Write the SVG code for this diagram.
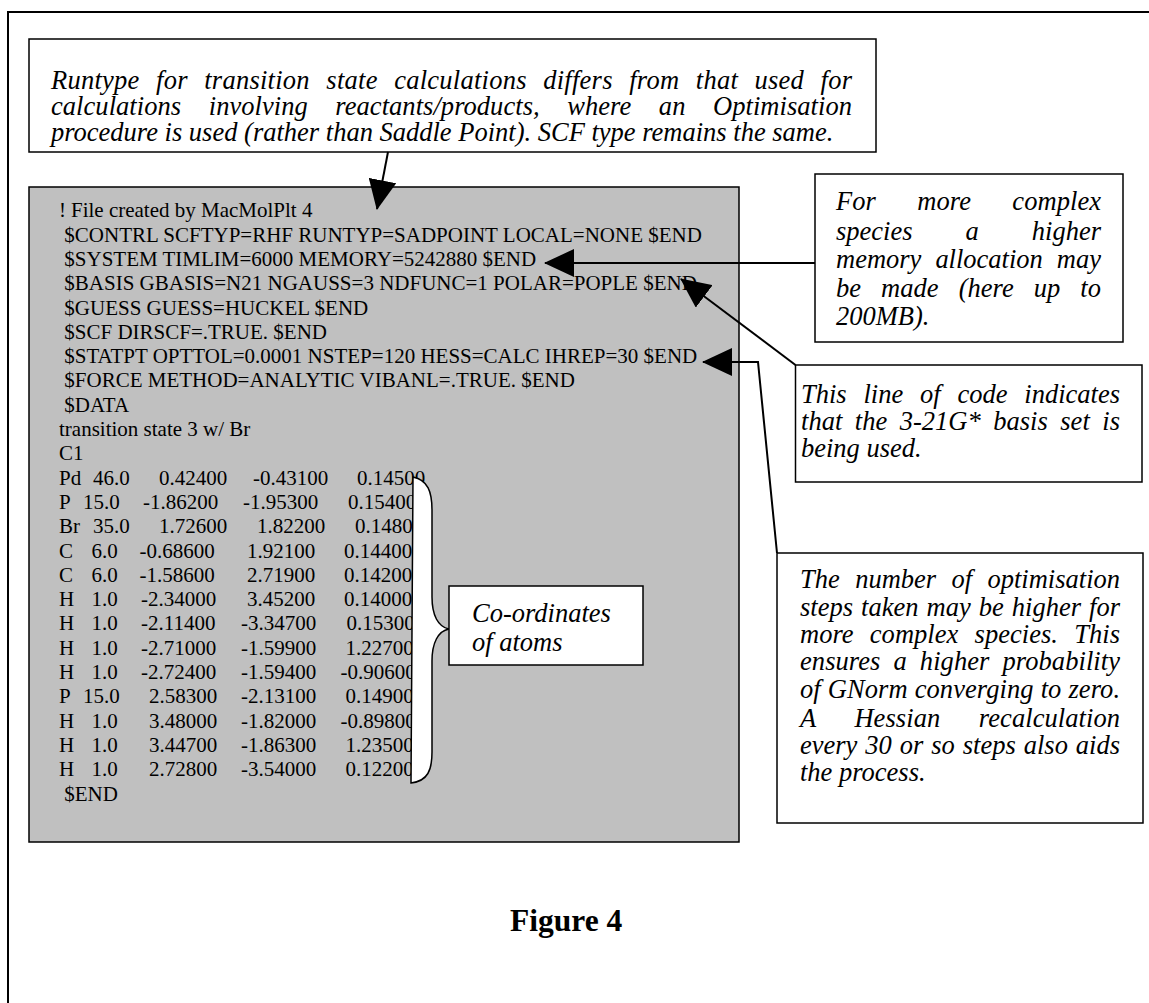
<svg xmlns="http://www.w3.org/2000/svg" width="1149" height="1003" viewBox="0 0 1149 1003">
<style>
.frame{fill:none;stroke:#000;stroke-width:2}
.box{fill:#fff;stroke:#000;stroke-width:1.5}
.gray{fill:#c0c0c0;stroke:#000;stroke-width:1.5}
.code{font-family:"Liberation Serif","Times New Roman",serif;font-size:21px;fill:#000}
.note{font-family:"Liberation Serif","Times New Roman",serif;font-style:italic;font-size:26.5px;fill:#000}
.fig{font-family:"Liberation Serif","Times New Roman",serif;font-weight:bold;font-size:31.5px;fill:#000}
.conn{fill:none;stroke:#000;stroke-width:2}
.brace{fill:#fff;stroke:#000;stroke-width:1.5}
</style>
<defs>
<marker id="ah" markerUnits="userSpaceOnUse" markerWidth="30" markerHeight="28" viewBox="0 0 30 28" refX="29" refY="14" orient="auto">
<path d="M0,0 L30,14 L0,28 z" fill="#000"/>
</marker>
</defs>
<rect width="1149" height="1003" fill="#fff"/>
<path class="frame" d="M8,1003 V12 H1149"/>

<g id="note-runtype">
<rect class="box" x="29" y="39" width="847" height="113"/>
<text class="note" x="51" y="89" word-spacing="9.6" textLength="801" lengthAdjust="spacing">Runtype for transition state calculations differs from that used for</text>
<text class="note" x="51" y="115" word-spacing="20.9" textLength="801" lengthAdjust="spacing">calculations involving reactants/products, where an Optimisation</text>
<text class="note" x="51" y="141">procedure is used (rather than Saddle Point). SCF type remains the same.</text>
</g>

<g id="input-file">
<rect class="gray" x="29" y="187" width="710" height="655"/>
<text class="code" y="217.3"><tspan x="59">!</tspan><tspan x="71">File created by MacMolPlt 4</tspan></text>
<text class="code" x="64.3" y="241.6">$CONTRL SCFTYP=RHF RUNTYP=SADPOINT LOCAL=NONE $END</text>
<text class="code" x="64.3" y="265.9">$SYSTEM TIMLIM=6000 MEMORY=5242880 $END</text>
<text class="code" x="64.3" y="290.2">$BASIS GBASIS=N21 NGAUSS=3 NDFUNC=1 POLAR=POPLE $END</text>
<text class="code" x="64.3" y="314.5">$GUESS GUESS=HUCKEL $END</text>
<text class="code" x="64.3" y="338.8">$SCF DIRSCF=.TRUE. $END</text>
<text class="code" x="64.3" y="363.1">$STATPT OPTTOL=0.0001 NSTEP=120 HESS=CALC IHREP=30 $END</text>
<text class="code" x="64.3" y="387.4">$FORCE METHOD=ANALYTIC VIBANL=.TRUE. $END</text>
<text class="code" x="64.3" y="411.7">$DATA</text>
<text class="code" x="59" y="436">transition state 3 w/ Br</text>
<text class="code" x="59" y="460.3">C1</text>
<text class="code" y="484.6"><tspan x="59">Pd</tspan><tspan x="93">46.0</tspan><tspan x="159">0.42400</tspan><tspan x="253">-0.43100</tspan><tspan x="357">0.14500</tspan></text>
<text class="code" y="508.9"><tspan x="59">P</tspan><tspan x="83">15.0</tspan><tspan x="143">-1.86200</tspan><tspan x="243">-1.95300</tspan><tspan x="348">0.15400</tspan></text>
<text class="code" y="533.2"><tspan x="59">Br</tspan><tspan x="93">35.0</tspan><tspan x="159">1.72600</tspan><tspan x="257">1.82200</tspan><tspan x="355">0.14800</tspan></text>
<text class="code" y="557.5"><tspan x="59">C</tspan><tspan x="91.5">6.0</tspan><tspan x="139.5">-0.68600</tspan><tspan x="247">1.92100</tspan><tspan x="344">0.14400</tspan></text>
<text class="code" y="581.8"><tspan x="59">C</tspan><tspan x="91.5">6.0</tspan><tspan x="139.5">-1.58600</tspan><tspan x="247">2.71900</tspan><tspan x="344">0.14200</tspan></text>
<text class="code" y="606.1"><tspan x="59">H</tspan><tspan x="91.5">1.0</tspan><tspan x="141">-2.34000</tspan><tspan x="247">3.45200</tspan><tspan x="344">0.14000</tspan></text>
<text class="code" y="630.4"><tspan x="59">H</tspan><tspan x="91.5">1.0</tspan><tspan x="141">-2.11400</tspan><tspan x="241">-3.34700</tspan><tspan x="346.5">0.15300</tspan></text>
<text class="code" y="654.7"><tspan x="59">H</tspan><tspan x="91.5">1.0</tspan><tspan x="141">-2.71000</tspan><tspan x="241">-1.59900</tspan><tspan x="345.5">1.22700</tspan></text>
<text class="code" y="679"><tspan x="59">H</tspan><tspan x="91.5">1.0</tspan><tspan x="141">-2.72400</tspan><tspan x="241">-1.59400</tspan><tspan x="340.5">-0.90600</tspan></text>
<text class="code" y="703.3"><tspan x="59">P</tspan><tspan x="83">15.0</tspan><tspan x="149">2.58300</tspan><tspan x="241">-2.13100</tspan><tspan x="345.5">0.14900</tspan></text>
<text class="code" y="727.6"><tspan x="59">H</tspan><tspan x="91.5">1.0</tspan><tspan x="149">3.48000</tspan><tspan x="241">-1.82000</tspan><tspan x="340.5">-0.89800</tspan></text>
<text class="code" y="751.9"><tspan x="59">H</tspan><tspan x="91.5">1.0</tspan><tspan x="149">3.44700</tspan><tspan x="241">-1.86300</tspan><tspan x="345.5">1.23500</tspan></text>
<text class="code" y="776.2"><tspan x="59">H</tspan><tspan x="91.5">1.0</tspan><tspan x="149">2.72800</tspan><tspan x="241">-3.54000</tspan><tspan x="345.5">0.12200</tspan></text>
<text class="code" x="64.3" y="800.5">$END</text>
</g>

<g id="brace">
<path class="brace" d="M413,477 C428,480 432,492 432,510 L432,597 C432,615 438,627 449,629 C438,631 432,643 432,661 L432,752 C432,770 428,781 411,783 Z"/>
</g>

<g id="note-coords">
<rect class="box" x="449" y="586" width="194" height="79"/>
<text class="note" x="472" y="622">Co-ordinates</text>
<text class="note" x="472" y="651">of atoms</text>
</g>

<g id="note-memory">
<rect class="box" x="815" y="174" width="308" height="168"/>
<text class="note" x="836" y="210" word-spacing="34.6" textLength="265" lengthAdjust="spacing">For more complex</text>
<text class="note" x="836" y="240" word-spacing="46.4" textLength="265" lengthAdjust="spacing">species a higher</text>
<text class="note" x="836" y="268" word-spacing="7.4" textLength="265" lengthAdjust="spacing">memory allocation may</text>
<text class="note" x="836" y="297" word-spacing="13.3" textLength="265" lengthAdjust="spacing">be made (here up to</text>
<text class="note" x="836" y="325">200MB).</text>
</g>

<g id="note-basis">
<rect class="box" x="795.5" y="365" width="346.5" height="117"/>
<text class="note" x="801" y="403" word-spacing="10.2" textLength="319" lengthAdjust="spacing">This line of code indicates</text>
<text class="note" x="801" y="430" word-spacing="5.9" textLength="319" lengthAdjust="spacing">that the 3-21G* basis set is</text>
<text class="note" x="801" y="457">being used.</text>
</g>

<g id="note-steps">
<rect class="box" x="777" y="553" width="366" height="270"/>
<text class="note" x="800" y="588" word-spacing="8.8" textLength="320" lengthAdjust="spacing">The number of optimisation</text>
<text class="note" x="800" y="616" word-spacing="1.4" textLength="320" lengthAdjust="spacing">steps taken may be higher for</text>
<text class="note" x="800" y="643" word-spacing="9.5" textLength="320" lengthAdjust="spacing">more complex species. This</text>
<text class="note" x="800" y="670" word-spacing="6.3" textLength="320" lengthAdjust="spacing">ensures a higher probability</text>
<text class="note" x="800" y="698" word-spacing="0.3" textLength="320" lengthAdjust="spacing">of GNorm converging to zero.</text>
<text class="note" x="800" y="727" word-spacing="31.9" textLength="320" lengthAdjust="spacing">A Hessian recalculation</text>
<text class="note" x="800" y="754" word-spacing="1.3" textLength="320" lengthAdjust="spacing">every 30 or so steps also aids</text>
<text class="note" x="800" y="781">the process.</text>
</g>

<g id="connectors">
<path class="conn" d="M388,152 L377,209" marker-end="url(#ah)"/>
<path class="conn" d="M815,263 L545,263" marker-end="url(#ah)"/>
<path class="conn" d="M795.5,365 L681,279" marker-end="url(#ah)"/>
<path class="conn" d="M777,553 L758,362 L703,362" marker-end="url(#ah)"/>
</g>

<text class="fig" x="510" y="931">Figure 4</text>
</svg>
